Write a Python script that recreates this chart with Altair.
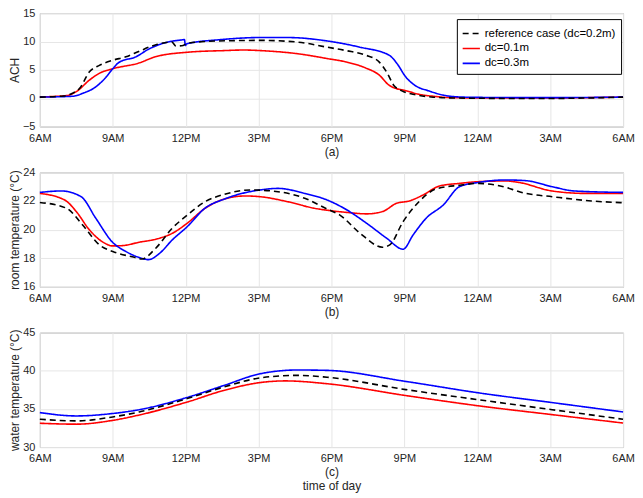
import altair as alt
import pandas as pd

series = ["reference case (dc=0.2m)", "dc=0.1m", "dc=0.3m"]
colors = ["#000000", "#ff0000", "#0000ff"]
dashes = [[6, 4], [1, 0], [1, 0]]
tick_hours = [0, 3, 6, 9, 12, 15, 18, 21, 24]
tick_labels = ["6AM", "9AM", "12PM", "3PM", "6PM", "9PM", "12AM", "3AM", "6AM"]

# ---- panel (a): ACH ----
a_ref_h = [0, 1.0, 1.3, 1.63, 2.04, 2.45, 3.0, 3.54, 4.07, 4.75, 5.43, 5.6, 5.9, 6.05, 6.8, 8.0, 9.05, 10.6,
           11.82, 12.6, 13.4, 13.96, 14.3, 14.56, 14.9, 15.46, 16.1, 17, 18, 20, 21, 22, 24]
a_ref_v = [0.2, 0.4, 0.8, 1.7, 4.65, 5.8, 6.7, 7.3, 8.25, 9.4, 9.9, 9.2, 9.3, 9.65, 10.0, 10.15, 10.2, 9.9,
           9.0, 8.4, 7.6, 6.4, 4.4, 2.3, 1.3, 0.6, 0.23, 0.05, 0.0, -0.05, -0.05, 0.0, 0.2]
a_red_h = [0, 1.1, 1.5, 2.04, 2.45, 3.0, 4.07, 4.75, 6.05, 7.6, 8.4, 9.05, 10.6, 11.82, 12.6, 13.4, 13.96,
           14.37, 14.64, 15.0, 15.6, 16.3, 16.9, 18, 21, 24]
a_red_v = [0.23, 0.47, 1.16, 3.2, 4.4, 5.2, 6.2, 7.3, 8.1, 8.4, 8.5, 8.4, 7.85, 7.0, 6.4, 5.35, 4.1,
           2.3, 1.74, 1.4, 0.7, 0.3, 0.1, 0.05, 0.05, 0.2]
a_blue_h = [0, 1.36, 1.77, 2.3, 2.7, 3.0, 3.25, 3.95, 4.5, 5.17, 5.86, 5.95, 5.99, 6.05, 7.5, 9.05, 10.2,
            11.82, 13.17, 14.37, 14.7, 15.05, 15.46, 16.0, 16.7, 17.24, 18, 21, 24]
a_blue_v = [0.2, 0.35, 0.87, 2.0, 3.6, 5.2, 6.3, 7.3, 8.7, 9.8, 10.3, 10.35, 9.3, 9.6, 10.35, 10.7, 10.7,
            10.1, 9.0, 7.6, 6.1, 3.8, 2.2, 1.3, 0.47, 0.23, 0.15, 0.1, 0.2]

# ---- panel (b): room temperature ----
b_ref_h = [0, 1.09, 1.77, 2.45, 3.0, 3.8, 4.2, 4.77, 5.45, 6.06, 6.8, 7.6, 8.7, 9.8, 10.9, 11.82, 12.36,
           13.18, 14.1, 14.4, 14.95, 15.6, 16.3, 17.27, 18.06, 18.9, 20.0, 21.08, 22.7, 24]
b_ref_v = [21.9, 21.5, 20.3, 18.93, 18.47, 18.1, 17.95, 18.7, 20.1, 21.0, 21.95, 22.47, 22.77, 22.65, 22.19,
           21.44, 21.0, 19.74, 18.77, 18.93, 20.56, 21.95, 22.84, 23.1, 23.23, 23.07, 22.53, 22.3, 22.0, 21.88]
b_red_h = [0, 1.02, 1.5, 2.04, 2.6, 3.0, 3.4, 4.1, 4.77, 5.45, 6.06, 6.8, 7.6, 8.45, 9.06, 10.2, 11.3, 12.08,
           12.64, 13.45, 14.1, 14.68, 15.2, 15.77, 16.45, 17.27, 18.06, 19.18, 19.7, 21.08, 22.45, 24]
b_red_v = [22.53, 22.07, 21.26, 19.98, 19.12, 18.86, 18.88, 19.12, 19.33, 19.74, 20.44, 21.49, 22.14, 22.35,
           22.3, 21.95, 21.49, 21.3, 21.2, 21.1, 21.26, 21.84, 22.0, 22.42, 23.05, 23.23, 23.35, 23.4, 23.3,
           22.7, 22.53, 22.53]
b_blue_h = [0, 0.89, 1.7, 2.3, 3.0, 3.54, 4.09, 4.47, 4.9, 5.45, 6.06, 6.8, 7.6, 9.06, 9.8, 10.9, 11.82,
            12.64, 13.45, 14.27, 14.95, 15.36, 15.9, 16.6, 17.27, 18.06, 19.18, 20.0, 21.08, 22.0, 24]
b_blue_v = [22.6, 22.7, 22.3, 20.8, 19.1, 18.47, 18.05, 17.9, 18.3, 19.28, 20.2, 21.5, 22.14, 22.77, 22.88,
            22.53, 22.07, 21.37, 20.44, 19.4, 18.63, 19.63, 20.8, 21.72, 23.0, 23.3, 23.47, 23.42, 23.0, 22.7, 22.6]

# ---- panel (c): water temperature ----
c_ref_h = [0, 1.5, 3.0, 4.09, 6.06, 7.6, 9.06, 10.6, 11.82, 15.06, 18.06, 21.08, 24]
c_ref_v = [33.65, 33.43, 33.95, 34.6, 36.35, 37.9, 39.06, 39.4, 39.15, 37.53, 36.2, 34.9, 33.65]
c_red_h = [0, 1.5, 3.0, 4.09, 6.06, 7.6, 9.06, 10.1, 11.82, 15.06, 18.06, 21.08, 24]
c_red_v = [33.12, 33.0, 33.5, 34.2, 35.9, 37.45, 38.45, 38.67, 38.3, 36.75, 35.4, 34.25, 33.15]
c_blue_h = [0, 1.5, 3.0, 4.09, 6.06, 7.6, 9.06, 10.6, 11.82, 15.06, 18.06, 21.08, 24]
c_blue_v = [34.52, 34.08, 34.4, 34.9, 36.5, 38.1, 39.6, 40.1, 40.05, 38.6, 37.1, 35.83, 34.6]


def frame(parts):
    rows = []
    for order, (name, hs, vs) in enumerate(parts):
        for h, v in zip(hs, vs):
            rows.append({"h": h, "v": v, "series": name, "ord": order})
    return pd.DataFrame(rows)


df_a = frame([(series[1], a_red_h, a_red_v), (series[2], a_blue_h, a_blue_v), (series[0], a_ref_h, a_ref_v)])
df_b = frame([(series[1], b_red_h, b_red_v), (series[2], b_blue_h, b_blue_v), (series[0], b_ref_h, b_ref_v)])
df_c = frame([(series[1], c_red_h, c_red_v), (series[2], c_blue_h, c_blue_v), (series[0], c_ref_h, c_ref_v)])

label_expr = "[" + ",".join("'%s'" % t for t in tick_labels) + "][round(datum.value/3)]"

W = 586


def panel(df, ydom, yvals, ytitle, xtitle, height, legend):
    if legend:
        leg = alt.Legend(orient="none", legendX=419, legendY=6, title=None, strokeColor="#000000",
                         fillColor="#ffffff", padding=5, symbolType="stroke", symbolSize=300,
                         symbolStrokeWidth=1.6, labelFontSize=11.5, labelColor="#000000", rowPadding=0,
                         labelFont="Liberation Sans")
    else:
        leg = None
    return alt.Chart(df).mark_line(strokeWidth=1.6, interpolate="monotone").encode(
        x=alt.X("h:Q", scale=alt.Scale(domain=[0, 24], nice=False),
                axis=alt.Axis(values=tick_hours, labelExpr=label_expr, title=xtitle, ticks=False,
                              labelPadding=6, titlePadding=3, domain=False, labelFlush=False)),
        y=alt.Y("v:Q", scale=alt.Scale(domain=ydom, nice=False),
                axis=alt.Axis(values=yvals, title=ytitle, ticks=False, labelPadding=5, domain=False,
                              minExtent=17, maxExtent=17, titlePadding=1, labelFlush=False)),
        color=alt.Color("series:N", scale=alt.Scale(domain=series, range=colors), legend=leg),
        strokeDash=alt.StrokeDash("series:N", scale=alt.Scale(domain=series, range=dashes), legend=leg),
        order=alt.Order("ord:Q"),
    ).properties(width=W, height=height)


pa = panel(df_a, [-5, 15], [-5, 0, 5, 10, 15], "ACH", "(a)", 114, True)
pb = panel(df_b, [16, 24], [16, 18, 20, 22, 24], "room temperature (°C)", "(b)", 115, False)
pc = panel(df_c, [30, 45], [30, 35, 40, 45], "water temperature (°C)", ["(c)", "time of day"], 115, False)

chart = alt.vconcat(pa, pb, pc, spacing=7).resolve_legend(
    color="independent", strokeDash="independent"
).properties(
    padding={"left": 0, "top": -3, "right": 0, "bottom": 0}
).configure(
    font="Liberation Sans"
).configure_axis(
    labelFontSize=11, titleFontSize=12, labelColor="#262626", titleColor="#262626",
    titleFontWeight="normal", gridColor="#e6e6e6", labelFont="Liberation Sans", titleFont="Liberation Sans"
).configure_view(
    stroke="#9a9a9a", strokeWidth=1
)

chart.save("out.html", embed_options={"renderer": "svg", "actions": False})
